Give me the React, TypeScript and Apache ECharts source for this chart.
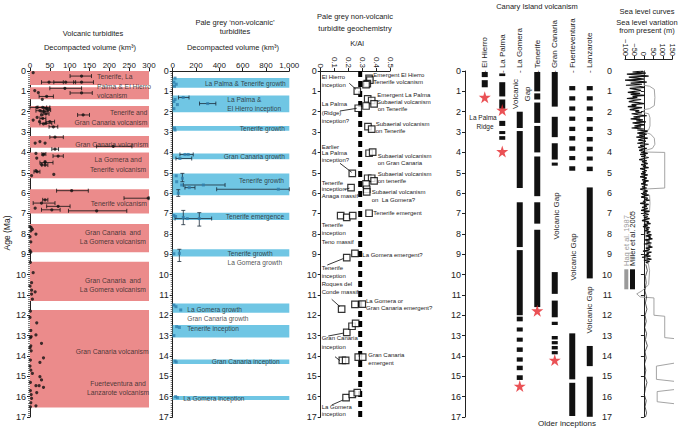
import React, { useEffect, useRef } from "react";
import * as echarts from "echarts";

const FONT = "'Liberation Sans', Arial, Helvetica, sans-serif";
const PINK = "#EB8B8B";
const BLUE = "#70C6E4";
const INK = "#222";

// ---------- Panel 1: volcanic turbidites ----------
const volcBands: number[][] = [
  [0, 0.69], [0.8, 1.39], [1.72, 2.77], [3.19, 3.77], [4.01, 5.27],
  [5.81, 7.0], [7.52, 8.91], [9.37, 11.3], [11.74, 16.53],
];
// [age, volume, errLow, errHigh]
const volcPts: number[][] = [
  [0.08, 8, 8, 8], [0.25, 130, 101, 155], [0.55, 48, 29, 84], [0.55, 90, 60, 115], [0.55, 130, 110, 160],
  [0.85, 88, 50, 130], [1.08, 130, 101, 157], [0.96, 12, 12, 12], [1.06, 21, 21, 21], [1.25, 42, 23, 59], [1.39, 31, 31, 31],
  [1.79, 17, 0, 50], [1.79, 32, 20, 42], [1.84, 42, 35, 50], [1.95, 25, 15, 35], [2.0, 35, 28, 45], [1.92, 46, 40, 52],
  [2.16, 29, 29, 29], [2.11, 40, 33, 48], [2.16, 134, 120, 150], [2.28, 18, 18, 18], [2.33, 32, 25, 40], [2.41, 8, 8, 8],
  [2.49, 24, 24, 24], [2.49, 50, 40, 62], [2.57, 40, 25, 55], [2.6, 34, 34, 34], [2.74, 59, 48, 70],
  [3.25, 63, 50, 84], [3.47, 25, 25, 25], [3.54, 13, 13, 13], [3.54, 38, 38, 38], [3.7, 210, 168, 257], [3.84, 63, 55, 72],
  [4.05, 15, 15, 15], [4.08, 35, 30, 40], [4.12, 33, 33, 33], [4.18, 71, 58, 84], [4.28, 17, 17, 17], [4.45, 38, 38, 38],
  [4.5, 38, 25, 58], [4.6, 29, 29, 29], [4.62, 38, 30, 45], [4.9, 15, 15, 15], [4.95, 18, 10, 25], [5.14, 4, 4, 4], [5.08, 60, 60, 60],
  [5.88, 105, 67, 147], [6.25, 298, 237, 300], [6.33, 38, 32, 45], [6.49, 29, 8, 63], [6.65, 71, 42, 101],
  [6.74, 13, 13, 13], [6.82, 55, 29, 76], [6.87, 168, 97, 244],
  [7.65, 0, 0, 0], [7.7, 3, 3, 3], [7.78, 6, 6, 6], [7.85, 2, 2, 2], [8.01, 15, 15, 15], [8.14, 0, 0, 0], [8.4, 2, 2, 2],
  [8.83, 0, 0, 0], [8.9, 2, 2, 2],
  [9.4, 1, 1, 1], [9.91, 8, 8, 8], [10.4, 4, 4, 4], [10.57, 0, 0, 0], [10.77, 4, 4, 4], [10.85, 13, 13, 13], [10.96, 4, 4, 4], [11.21, 6, 6, 6],
  [11.8, 1, 1, 1], [12.11, 0, 0, 0], [12.37, 17, 17, 17], [12.75, 2, 2, 2], [12.97, 15, 15, 15], [13.05, 3, 3, 3], [13.1, 1, 1, 1],
  [13.38, 29, 29, 29], [13.5, 2, 2, 2], [13.6, 0, 0, 0], [13.75, 3, 3, 3], [14.09, 34, 34, 34], [14.2, 1, 1, 1], [14.32, 25, 25, 25],
  [14.5, 0, 0, 0], [14.7, 2, 2, 2], [14.86, 6, 6, 6], [15.02, 25, 25, 25], [15.18, 29, 29, 29], [15.3, 1, 1, 1], [15.46, 15, 15, 15],
  [15.46, 23, 23, 23], [15.54, 34, 34, 34], [15.7, 1, 1, 1], [15.8, 17, 17, 17], [15.9, 3, 3, 3], [16.08, 4, 4, 4], [16.3, 2, 2, 2],
  [16.45, 15, 15, 15], [16.5, 1, 1, 1],
];
const volcLabels = [
  { text: "Tenerife, La\nPalma & El Hierro\nvolcanism", x: 169, age: 0.74, align: "left" },
  { text: "Tenerife and\nGran Canaria volcanism", x: 296, age: 2.29, align: "right" },
  { text: "Gran Canaria volcanism", x: 298, age: 3.59, align: "right" },
  { text: "La Gomera and\nTenerife volcanism", x: 222, age: 4.59, align: "center" },
  { text: "Tenerife volcanism", x: 224, age: 6.49, align: "center" },
  { text: "Gran Canaria  and\nLa Gomera volcanism", x: 209, age: 8.15, align: "center" },
  { text: "Gran Canaria  and\nLa Gomera volcanism", x: 209, age: 10.51, align: "center" },
  { text: "Gran Canaria volcanism", x: 207, age: 13.79, align: "center" },
  { text: "Fuerteventura and\nLanzarote volcanism", x: 222, age: 15.59, align: "center" },
];

// ---------- Panel 2: pale grey turbidites ----------
const greyBands: number[][] = [
  [0.34, 0.82], [1.2, 2.03], [2.7, 2.93], [4.05, 4.34], [5.03, 6.11], [6.96, 7.32],
  [8.76, 9.12], [11.42, 11.88], [12.48, 13.09], [14.17, 14.4], [15.97, 16.17],
];
// [age, volume, errLow, errHigh, ageLow, ageHigh]
const greyPts: number[][] = [
  [0.35, 20, 20, 20, 0.35, 0.35], [0.55, 10, 10, 10, 0.55, 0.55], [0.65, 30, 30, 30, 0.65, 0.65], [0.75, 15, 15, 15, 0.75, 0.75],
  [1.3, 90, 50, 140, 1.3, 1.3], [1.4, 20, 20, 20, 1.4, 1.4], [1.5, 10, 10, 10, 1.5, 1.5], [1.6, 300, 230, 370, 1.6, 1.6],
  [1.65, 40, 40, 40, 1.65, 1.65], [1.85, 10, 10, 10, 1.85, 1.85], [2.8, 15, 15, 15, 2.8, 2.8], [2.9, 20, 20, 20, 2.9, 2.9],
  [4.1, 105, 62, 176, 4.1, 4.1], [4.1, 133, 133, 133, 4.1, 4.1], [4.3, 62, 28, 163, 4.3, 4.3],
  [5.15, 30, 30, 30, 5.15, 5.15], [5.27, 83, 83, 83, 5.03, 5.44], [5.44, 34, 34, 34, 5.44, 5.44], [5.6, 77, 77, 77, 5.6, 5.6],
  [5.6, 263, 91, 449, 5.6, 5.6], [5.73, 142, 105, 191, 5.73, 5.73], [5.81, 906, 377, 1000, 5.81, 5.81], [6.0, 48, 48, 48, 5.83, 6.16],
  [7.1, 10, 10, 10, 7.1, 7.1], [7.15, 25, 25, 25, 7.15, 7.15], [7.25, 125, 20, 334, 7.25, 7.25], [7.2, 91, 91, 91, 6.85, 7.55],
  [7.25, 228, 228, 228, 6.96, 7.62],
  [8.98, 10, 10, 10, 8.98, 8.98], [8.96, 57, 57, 57, 8.76, 9.36],
  [11.5, 10, 10, 10, 11.5, 11.5], [11.58, 28, 28, 28, 11.58, 11.58], [11.74, 69, 69, 69, 11.74, 11.74],
  [12.56, 34, 34, 34, 12.56, 12.56], [12.6, 57, 57, 57, 12.6, 12.6], [13.0, 10, 10, 10, 13.0, 13.0],
  [14.25, 20, 20, 20, 14.25, 14.25], [14.3, 30, 30, 30, 14.3, 14.3], [16.0, 25, 25, 25, 16.0, 16.0], [16.05, 40, 40, 40, 16.05, 16.05],
];
const greyLabels = [
  { text: "La Palma & Tenerife growth", x: 970, age: 0.6, align: "right" },
  { text: "La Palma &\nEl Hierro inception", x: 468, age: 1.64, align: "left" },
  { text: "Tenerife growth", x: 962, age: 2.82, align: "right" },
  { text: "Gran Canaria growth", x: 962, age: 4.19, align: "right" },
  { text: "Tenerife growth", x: 955, age: 5.37, align: "right" },
  { text: "Tenerife emergence", x: 955, age: 7.16, align: "right" },
  { text: "Tenerife growth\nLa Gomera growth", x: 470, age: 9.17, align: "left" },
  { text: "La Gomera growth", x: 125, age: 11.7, align: "left" },
  { text: "Gran Canaria growth", x: 125, age: 12.17, align: "left" },
  { text: "Tenerife inception", x: 125, age: 12.64, align: "left" },
  { text: "Gran Canaria inception", x: 626, age: 14.25, align: "center" },
  { text: "La Gomera inception", x: 91, age: 16.08, align: "left" },
];

// ---------- Panel 3: K/Al geochemistry ----------
const kalPts: number[][] = [
  [0.349, 0.36], [0.355, 0.45], [0.336, 0.62], [0.327, 0.67], [0.264, 0.99],
  [0.339, 1.37], [0.368, 1.45], [0.385, 1.62], [0.327, 1.72], [0.271, 1.83],
  [0.341, 2.73], [0.368, 2.86], [0.349, 4.04], [0.375, 3.99], [0.228, 5.03],
  [0.339, 5.27], [0.368, 5.27], [0.385, 5.4], [0.327, 5.55], [0.332, 5.81], [0.332, 5.94],
  [0.219, 5.73], [0.349, 6.99], [0.144, 7.11], [0.188, 7.19], [0.231, 7.11],
  [0.247, 8.96], [0.188, 9.17], [0.151, 11.7], [0.247, 11.47], [0.3, 11.45],
  [0.188, 12.84], [0.226, 12.54], [0.252, 12.4], [0.156, 14.22], [0.18, 14.22],
  [0.271, 14.06], [0.303, 14.06], [0.183, 16.05], [0.228, 15.89], [0.264, 15.8],
];
const kalThreshold = 0.285;

// ---------- Panel 4: Canary Island volcanism ----------
const islands = ["El Hierro", "La Palma", "La Gomera", "Tenerife", "Gran Canaria", "Fuerteventura", "Lanzarote"];
// [islandIndex, startAge, endAge]
const islandSegs: number[][] = [
  [0, 0.05, 0.3], [0, 0.45, 0.8],
  [1, 0.12, 0.25], [1, 0.55, 1.25], [1, 1.4, 1.85], [1, 2.45, 2.7], [1, 2.95, 3.1], [1, 3.2, 3.38],
  [2, 2.0, 2.8], [2, 2.95, 5.75], [2, 6.45, 8.65], [2, 8.8, 12.0], [2, 12.07, 12.3], [2, 12.6, 12.8], [2, 13.1, 13.3],
  [2, 13.58, 13.8], [2, 14.07, 14.28], [2, 14.48, 14.7], [2, 14.95, 15.18],
  [3, 0.05, 1.0], [3, 1.1, 1.4], [3, 1.55, 2.55], [3, 2.7, 4.0], [3, 4.2, 6.15], [3, 6.45, 7.5], [3, 7.8, 11.6],
  [4, 0.05, 1.75], [4, 2.25, 3.25], [4, 3.55, 4.35], [4, 4.5, 4.65], [4, 9.88, 10.95], [4, 11.28, 12.1], [4, 12.32, 12.48],
  [4, 13.02, 13.19], [4, 13.27, 13.43], [4, 13.51, 13.68], [4, 13.76, 13.92],
  [5, 0.74, 0.95], [5, 1.24, 1.45], [5, 1.74, 1.95], [5, 2.24, 2.45], [5, 2.74, 2.95], [5, 3.2, 3.42],
  [5, 3.7, 3.92], [5, 4.18, 4.38], [5, 4.68, 4.9], [5, 12.89, 15.15], [5, 15.32, 16.95],
  [6, 0.74, 0.95], [6, 1.24, 1.45], [6, 1.74, 1.95], [6, 2.26, 2.47], [6, 2.74, 2.95], [6, 3.24, 3.46],
  [6, 3.72, 3.94], [6, 4.2, 4.4], [6, 4.7, 4.92], [6, 5.72, 10.19], [6, 13.51, 14.5], [6, 15.02, 16.99],
];
const inceptionStars: number[][] = [[0, 1.29], [1, 1.92], [1, 3.95], [2, 15.48], [3, 11.78], [4, 14.2]];

// ---------- Panel 5: sea level ----------
const MILLER_STEP = 0.05; // Ma between Miller et al. samples (0 - 9.5 Ma)
const millerDense: number[] = [
  -5, -60, 10, -90, -20, 25, -80, -40, 0, -100, -30, 15, -70, -10, -95, -25, 5, -75, -45, -15,
  -50, -85, -20, -70, 5, -60, -35, -90, -15, -55, -80, -30, 0, -65, -40, -85, -10, -50, -75, -25,
  -45, -10, -65, -30, 15, -55, -20, -70, -5, -40, 10, -60, -25, 5, -50, -15, -65, 0, -35, 20,
  -10, -35, 15, -25, 5, -40, 20, -15, -30, 10, -5, -35, 25, -20, 0, -30, 15, -10, -25, 5,
  -5, 20, -20, 10, -15, 25, 0, -25, 15, -10, 5, 20, -15, 10, -5, 25, -20, 0, 15, -10,
  10, -15, 20, 0, -20, 15, 5, -10, 25, -5, 10, -15, 20, 0, -10, 15, -20, 5, 20, -5,
  15, -10, 25, 0, -15, 20, 5, 30, -5, 10, -20, 25, 0, 15, -10, 20, 5, -15, 30, 0,
  10, 25, -5, 20, 0, 30, 5, -10, 25, 15, 35, 0, 20, -5, 30, 10, 25, 5, 35, 15,
  20, 40, 10, 35, 25, 45, 5, 30, 15, 40, 0, 35, 20, 45, 10, 30, 25, -5, 40, 15,
  25, 5, 35, -10, 20, 40, 0, 30, 10, 20,
];
const millerLate: number[][] = [
  [9.5, 10], [9.8, 18], [10.1, 8], [10.4, 12], [10.8, 5], [11.1, 14], [11.4, 8], [11.7, 16], [12.0, 6], [12.3, 12],
  [12.6, 4], [12.9, 14], [13.2, 8], [13.5, 18], [13.8, 6], [14.1, 12], [14.4, 3], [14.7, 10], [15.0, 5], [15.3, 16],
  [15.6, 8], [15.9, 2], [16.2, 12], [16.5, 6], [16.8, 14], [17.0, 8],
];
const haq: number[][] = [
  [0, 0], [0.7, 0], [0.75, 30], [0.9, 55], [1.3, 58], [1.7, 55], [1.85, 30], [1.9, 0], [2.05, 0], [2.1, 25],
  [2.3, 32], [2.7, 32], [2.9, 25], [2.95, 0], [3.0, 0], [3.1, 35], [3.3, 55], [3.6, 58], [3.8, 45], [3.9, 10],
  [3.98, 0], [4.0, 110], [5.75, 110], [5.8, 5], [6.05, 0], [6.1, 30], [6.5, 32], [6.85, 30], [6.9, 5], [8.0, 10],
  [9.3, 20], [9.8, 30], [10.5, 25], [10.8, -10], [10.95, -38], [11.1, -20], [11.15, 53], [12.0, 53], [12.05, 110],
  [13.1, 110], [13.15, 163], [14.35, 163], [14.5, 66], [15.15, 66], [15.25, 163], [15.65, 163], [15.75, 70],
  [16.25, 70], [16.35, 163], [17.0, 163],
];

const STAR = "path://M50,0 L61,35 L98,35 L68,57 L79,91 L50,70 L21,91 L32,57 L2,35 L39,35 Z";

function txt(text: string, x: number, y: number, o: any = {}) {
  return {
    type: "text", x, y, rotation: o.rot || 0, z: 50,
    style: {
      text, fill: o.color || INK, fontSize: o.size || 6, fontFamily: FONT,
      align: o.align || "left", textAlign: o.align || "left",
      verticalAlign: "middle", textVerticalAlign: "middle",
    },
  };
}
function seg(x1: number, y1: number, x2: number, y2: number) {
  return { type: "line", z: 50, shape: { x1, y1, x2, y2 }, style: { stroke: INK, lineWidth: 0.9 } };
}

function buildOption() {
  const TOP = 71, H = 346;
  const grids = [
    { left: 30, top: TOP, width: 119, height: H },
    { left: 172.7, top: TOP, width: 116.6, height: H },
    { left: 320.7, top: TOP, width: 69.3, height: H },
    { left: 476, top: TOP, width: 122.5, height: H },
    { left: 625, top: TOP, width: 47.3, height: H },
  ];
  const yAxis = (gi: number, offset: number, minor: boolean) => ({
    type: "value", gridIndex: gi, inverse: true, min: 0, max: 17, interval: 1, offset,
    axisLine: { show: true, lineStyle: { color: INK, width: 1 } },
    axisTick: { show: true, length: 3, lineStyle: { color: INK } },
    minorTick: minor ? { show: true, splitNumber: 10, length: 2, lineStyle: { color: INK, width: 0.6 } } : { show: false },
    splitLine: { show: false },
    axisLabel: { fontSize: 9, color: INK, fontFamily: FONT, margin: 4 },
  });
  const xTop = (gi: number, min: number, max: number, interval: number, extra: any = {}) => ({
    type: "value", gridIndex: gi, position: "top", min, max, interval, offset: extra.offset || 0,
    axisLine: { show: true, onZero: false, lineStyle: { color: INK, width: 1 } },
    axisTick: { show: true, length: 3, lineStyle: { color: INK } },
    splitLine: { show: false },
    axisLabel: { fontSize: 8, color: INK, fontFamily: FONT, margin: 2, ...(extra.axisLabel || {}) },
  });

  const bandSeries = (xi: number, data: number[][], xmin: number, xmax: number, color: string) => ({
    type: "custom", xAxisIndex: xi, yAxisIndex: xi, data, z: 1, silent: true,
    encode: { x: -1, y: [0, 1] },
    renderItem: (p: any, api: any) => {
      const a = api.coord([xmin, api.value(0)]);
      const b = api.coord([xmax, api.value(1)]);
      return { type: "rect", shape: { x: a[0], y: a[1], width: b[0] - a[0], height: b[1] - a[1] }, style: { fill: color } };
    },
  });
  const hErr = (xi: number, data: number[][], color: string) => ({
    type: "custom", xAxisIndex: xi, yAxisIndex: xi, data, z: 3, silent: true,
    encode: { x: 1, y: 0 },
    renderItem: (p: any, api: any) => {
      const age = api.value(0), lo = api.value(2), hi = api.value(3);
      const ch: any[] = [];
      if (hi > lo) {
        const a = api.coord([lo, age]), b = api.coord([hi, age]);
        ch.push({ type: "line", shape: { x1: a[0], y1: a[1], x2: b[0], y2: b[1] }, style: { stroke: color, lineWidth: 0.8 } });
        ch.push({ type: "line", shape: { x1: a[0], y1: a[1] - 2, x2: a[0], y2: a[1] + 2 }, style: { stroke: color, lineWidth: 0.8 } });
        ch.push({ type: "line", shape: { x1: b[0], y1: b[1] - 2, x2: b[0], y2: b[1] + 2 }, style: { stroke: color, lineWidth: 0.8 } });
      }
      if (api.value(5) !== undefined && api.value(5) > api.value(4)) {
        const v = api.value(1);
        const a = api.coord([v, api.value(4)]), b = api.coord([v, api.value(5)]);
        ch.push({ type: "line", shape: { x1: a[0], y1: a[1], x2: b[0], y2: b[1] }, style: { stroke: color, lineWidth: 0.8 } });
        ch.push({ type: "line", shape: { x1: a[0] - 2, y1: a[1], x2: a[0] + 2, y2: a[1] }, style: { stroke: color, lineWidth: 0.8 } });
        ch.push({ type: "line", shape: { x1: b[0] - 2, y1: b[1], x2: b[0] + 2, y2: b[1] }, style: { stroke: color, lineWidth: 0.8 } });
      }
      return { type: "group", children: ch };
    },
  });
  const labelSeries = (xi: number, labels: any[], size: number) => ({
    type: "scatter", xAxisIndex: xi, yAxisIndex: xi, symbolSize: 0, z: 5, silent: true,
    data: labels.map((l) => ({
      value: [l.x, l.age],
      label: {
        show: true, position: "inside", formatter: l.text, align: l.align, verticalAlign: "middle",
        fontSize: size, lineHeight: size + 2.5, color: INK, fontFamily: FONT,
      },
    })),
  });

  const series: any[] = [
    bandSeries(0, volcBands, 0, 300, PINK),
    hErr(0, volcPts, "#111"),
    {
      type: "scatter", xAxisIndex: 0, yAxisIndex: 0, symbol: "circle", symbolSize: 3.2, z: 4,
      itemStyle: { color: "#111" }, data: volcPts.map((d) => [d[1], d[0]]),
    },
    labelSeries(0, volcLabels, 6.8),

    bandSeries(1, greyBands, 0, 1000, BLUE),
    hErr(1, greyPts, "#1b2b3a"),
    {
      type: "scatter", xAxisIndex: 1, yAxisIndex: 1, symbol: "rect", symbolSize: 3, z: 4,
      itemStyle: { color: "#2f7fae" }, data: greyPts.map((d) => [d[1], d[0]]),
    },
    labelSeries(1, greyLabels, 6.6),

    {
      type: "line", xAxisIndex: 2, yAxisIndex: 2, z: 2, symbol: "none", silent: true,
      lineStyle: { color: "#000", width: 4, type: [6, 4] },
      data: [[kalThreshold, 0], [kalThreshold, 17]],
    },
    {
      type: "scatter", xAxisIndex: 2, yAxisIndex: 2, symbol: "rect", symbolSize: 6.5, z: 4,
      itemStyle: { color: "#fff", borderColor: "#000", borderWidth: 1.2 }, data: kalPts,
    },

    {
      type: "custom", xAxisIndex: 3, yAxisIndex: 3, data: islandSegs, z: 3, silent: true,
      encode: { x: 0, y: [1, 2] },
      renderItem: (p: any, api: any) => {
        const a = api.coord([api.value(0), api.value(1)]);
        const b = api.coord([api.value(0), api.value(2)]);
        return { type: "rect", shape: { x: a[0] - 3, y: a[1], width: 6, height: b[1] - a[1] }, style: { fill: "#111" } };
      },
    },
    {
      type: "scatter", xAxisIndex: 3, yAxisIndex: 3, symbol: STAR, symbolSize: 12, z: 6,
      itemStyle: { color: "#E5262A" }, data: inceptionStars,
    },

    {
      type: "line", xAxisIndex: 4, yAxisIndex: 4, symbol: "none", z: 2, clip: false, silent: true,
      lineStyle: { color: "#9a9a9a", width: 0.9 }, data: haq.map((d) => [d[1], d[0]]),
    },
    {
      type: "line", xAxisIndex: 4, yAxisIndex: 4, symbol: "none", z: 3, silent: true,
      lineStyle: { color: "#111", width: 1.2 },
      data: millerDense.map((v, i) => [v, i * MILLER_STEP]),
    },
    {
      type: "line", xAxisIndex: 4, yAxisIndex: 4, symbol: "none", z: 3, silent: true,
      lineStyle: { color: "#111", width: 0.7 }, data: millerLate.map((d) => [d[1], d[0]]),
    },
  ];

  const R = Math.PI / 2;
  const graphic: any[] = [
    // titles
    txt("Volcanic turbidites", 93, 33, { align: "center", size: 7.5 }),
    txt("Decompacted volume (km\u00B3)", 90, 47, { align: "center", size: 7.5 }),
    txt("Pale grey \u2018non-volcanic\u2019", 235, 22.7, { align: "center", size: 7.5 }),
    txt("turbidites", 235, 31.5, { align: "center", size: 7.5 }),
    txt("Decompacted volume (km\u00B3)", 233, 47, { align: "center", size: 7.5 }),
    txt("Pale grey non-volcanic", 355, 16.7, { align: "center", size: 7.5 }),
    txt("turbidite geochemistry", 355, 28.3, { align: "center", size: 7.5 }),
    txt("K/Al", 357, 43, { align: "center", size: 7.5 }),
    txt("Canary Island volcanism", 537, 6, { align: "center", size: 7.5 }),
    txt("Sea level curves", 647, 11, { align: "center", size: 7.5 }),
    txt("Sea level variation", 647, 22, { align: "center", size: 7.5 }),
    txt("from present (m)", 647, 30.5, { align: "center", size: 7.5 }),
    txt("Age (Ma)", 7, 233, { align: "center", size: 8.5, rot: R }),

    // panel 3 left annotations
    txt("El Hierro", 321.7, 76.7), txt("inception", 321.7, 85),
    txt("La Palma", 321.7, 104.3), txt("(Ridge)", 321.7, 112.7), txt("inception?", 321.7, 121),
    txt("Earlier", 321.7, 146.5), txt("La Palma", 321.7, 153), txt("inception?", 321.7, 159.5),
    txt("Tenerife", 321.7, 182.7), txt("inception", 321.7, 189.3), txt("Anaga massif", 321.7, 196),
    txt("Tenerife", 321.7, 225), txt("inception", 321.7, 233.3), txt("Teno massif", 321.7, 241.7),
    txt("Tenerife", 321.7, 268.3), txt("inception", 321.7, 276), txt("Roques del", 321.7, 284), txt("Conde massif", 321.7, 291.7),
    txt("Gran Canaria", 321.7, 338.3), txt("inception", 321.7, 346.7),
    txt("La Gomera", 321.7, 406.7), txt("inception", 321.7, 414),
    // panel 3 right annotations
    txt("Emergent El Hierro", 373.3, 75), txt("Tenerife volcanism", 373.3, 81.7),
    txt("Emergent La Palma", 377.3, 95), txt("Subaerial volcanism", 377, 101.7), txt("on Tenerife", 377.7, 109),
    txt("Subaerial volcanism", 375.7, 124.3), txt("on Tenerife", 375.7, 131),
    txt("Subaerial volcanism", 377.7, 155.7), txt("on Gran Canaria", 377.7, 163.3),
    txt("Subaerial volcanism", 377.7, 174.3), txt("on tenerife", 377.7, 181),
    txt("Subaerial volcanism", 371.7, 191.7), txt("on  La Gomera?", 371.7, 200),
    txt("Tenerife emergent", 373.3, 213.3),
    txt("La Gomera emergent?", 362.3, 255),
    txt("La Gomera or", 366, 300.7), txt("Gran Canaria emergent?", 366, 308.3),
    txt("Gran Canaria", 368.3, 355), txt("emergent", 368.3, 362.7),
    // leader lines
    seg(349.3, 83.3, 356, 89.3), seg(340, 111, 356.7, 108.3), seg(340, 163.3, 351.7, 172.3),
    seg(344.5, 189.5, 349.5, 188.2), seg(327.3, 265, 344, 258.3), seg(331.7, 299.3, 340, 306.7),
    seg(328.3, 336, 344, 333), seg(335, 356.7, 340, 360.7), seg(331.7, 405, 343, 400),

    // panel 4 annotations
    ...islands.map((n, i) => txt("- " + n, 484.7 + i * 17.5, 73, { rot: R, size: 8 })),
    txt("La Palma", 483, 117.3, { align: "center", size: 6.5 }),
    txt("Ridge", 485, 126.7, { align: "center", size: 6.5 }),
    txt("Volcanic", 515.5, 94, { align: "center", size: 8, rot: R }),
    txt("Gap", 527, 94, { align: "center", size: 8, rot: R }),
    txt("Volcanic Gap", 556, 216, { align: "center", size: 8, rot: R }),
    txt("Volcanic Gap", 573.5, 257, { align: "center", size: 8, rot: R }),
    txt("Volcanic Gap", 589.5, 310, { align: "center", size: 8, rot: R }),
    txt("Older inceptions", 567, 423, { align: "center", size: 8 }),

    // sea level legend
    { type: "rect", z: 50, shape: { x: 624.3, y: 269.3, width: 4, height: 20 }, style: { fill: "#9a9a9a" } },
    { type: "rect", z: 50, shape: { x: 630, y: 269.3, width: 5, height: 20 }, style: { fill: "#111" } },
    txt("Haq et al. 1987", 626.3, 266, { rot: R, size: 7.5, color: "#9a9a9a" }),
    txt("Miller et al. 2005", 632.5, 266, { rot: R, size: 7.5, color: "#111" }),
  ];

  return {
    animation: false,
    backgroundColor: "#fff",
    textStyle: { fontFamily: FONT },
    grid: grids,
    xAxis: [
      xTop(0, 0, 300, 50),
      xTop(1, 0, 1000, 200),
      xTop(2, 0, 0.5, 0.1, { axisLabel: { rotate: 90, margin: 3, formatter: (v: number) => String(Math.round(v * 10) / 10) } }),
      { type: "category", gridIndex: 3, data: islands, show: false },
      xTop(4, -100, 150, 50, {
        offset: 12,
        axisLabel: { rotate: 90, margin: 3, fontSize: 7.5, formatter: (v: number) => (v < 0 ? "\u2212" + -v : String(v)) },
      }),
    ],
    yAxis: [yAxis(0, 0, true), yAxis(1, 0, true), yAxis(2, 0, false), yAxis(3, 11, false), yAxis(4, 9, false)],
    series,
    graphic,
  };
}

export default function App() {
  const ref = useRef<HTMLDivElement>(null);
  useEffect(() => {
    document.body.style.margin = "0";
    const chart = echarts.init(ref.current!, undefined, { renderer: "svg" });
    chart.setOption(buildOption() as any);
    return () => chart.dispose();
  }, []);
  return <div ref={ref} style={{ width: 685, height: 429, background: "#fff" }} />;
}
